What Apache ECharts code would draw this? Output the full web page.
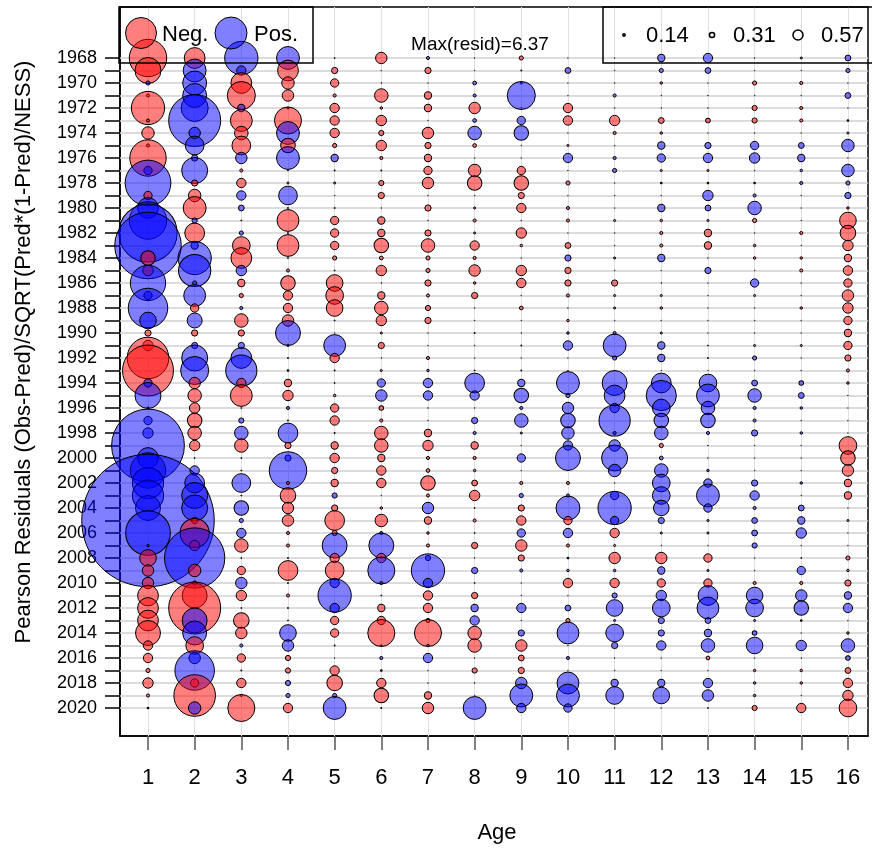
<!DOCTYPE html>
<html>
<head>
<meta charset="utf-8">
<title>Pearson residuals by age</title>
<script src="https://cdn.jsdelivr.net/npm/echarts@6/dist/echarts.min.js"></script>
<style>
  html, body { margin: 0; padding: 0; background: #fff; }
  #chart { width: 872px; height: 852px; }
</style>
</head>
<body>
<div id="chart"></div>
<script>
// ages on x, years on y
const ages = [1, 2, 3, 4, 5, 6, 7, 8, 9, 10, 11, 12, 13, 14, 15, 16];
const years = [];
for (let y = 1968; y <= 2020; y++) years.push(y);
const yearLabels = years.filter(y => y % 2 === 0);
const sizeLegend = [0.14, 0.31, 0.57];
const maxResid = 6.37;

// residuals per age, 1968..2020 (negative = red, positive = blue)
const age1 = [-1.8, -1.25, 0.2, -0.15, -1.6, -0.15, -0.6, -0.15, -1.75, 0.4, 2.2, -0.4,
  1.0, 1.8, 2.8, 3.2, -0.7, -0.5, 1.7, 0.4, 1.9, 0.8,
  -0.3, -0.5, -2.0, -2.45, 0.4, 1.25, 0.1, 0.4, 0.5, 3.5,
  1.0, 1.7, 1.5, 1.5, 1.2, 6.37, 2.15, 0.12, -0.8, -0.55,
  -0.55, -1.0, -1.0, -1.0, -1.2, -0.45, -0.45, -0.2, -0.5, -0.15,
  -0.08];
const age2 = [-1.0, 1.1, 1.15, 1.15, 1.3, 2.5, 0.55, 0.9, 0.3, 1.25, -0.3, -0.6,
  -1.1, 0.25, -0.95, 0.35, 1.6, 1.55, 0.2, 1.05, -0.4, 0.72,
  -0.3, 0.3, 1.25, 1.35, -0.55, -0.65, -0.5, -0.7, -0.65, -0.5,
  0.05, 0.45, 0.95, 1.25, 1.25, -0.3, -1.4, -0.5, 2.9, -0.6,
  -0.2, -1.2, -2.5, 1.2, 1.15, -0.85, 0.55, 1.9, -0.4, -2.0,
  0.6];
const age3 = [1.6, 0.45, -1.0, -1.35, 0.35, -1.05, -0.65, -0.9, 0.55, -0.15, -0.45, 0.45,
  0.28, 0.05, 0.2, -0.85, -1.0, 0.5, -0.35, -0.2, 0.15, -0.65,
  -0.3, 0.3, 1.0, 1.5, -0.45, -1.05, 0.05, 0.25, 0.65, -0.65,
  0.05, 0.05, 0.9, 0.05, 0.7, 0.2, 0.45, -0.65, 0.05, -0.4,
  0.55, -0.5, 0.05, -0.75, -0.55, 0.15, -0.4, 0.04, -0.45, -0.1,
  -1.3];
const age4 = [1.1, -1.0, -0.6, -0.55, 0.08, -1.3, 1.1, -0.7, 1.1, 0.05, -0.1, 0.9,
  0.04, -1.05, 0.04, -1.05, 0.05, -0.15, -0.7, -0.45, -0.45, -0.55,
  1.2, 0.1, 0.04, 0.08, -0.35, -0.5, 0.15, 0.04, 0.95, -0.3,
  0.3, 1.8, -0.15, -0.75, -0.55, -0.55, -0.15, -0.15, 0.04, -0.95,
  0.04, -0.15, 0.04, 0.05, 0.8, 0.55, -0.25, -0.25, 0.25, 0.2,
  -0.45];
const age5 = [0.05, -0.3, -0.4, -0.15, -0.45, -0.45, -0.45, -0.2, 0.35, 0.04, -0.1, 0.02,
  0.06, -0.4, -0.4, -0.4, -0.2, 0.05, -0.8, -0.85, -0.8, 0.05,
  0.02, 1.05, -0.45, 0.04, 0.05, -0.12, -0.4, -0.45, 0.04, -0.35,
  -0.45, -0.3, -0.35, 0.25, -0.3, -0.95, -0.25, 1.2, -0.45, -0.9,
  0.45, 1.6, 0.45, -0.4, -0.4, 0.04, 0.03, -0.45, -0.75, 0.2,
  1.1];
const age6 = [-0.55, 0.02, 0.03, -0.65, -0.12, -0.5, -0.25, -0.5, -0.15, 0.04, -0.25, -0.3,
  0.03, -0.35, -0.35, -0.7, -0.18, -0.5, 0.03, -0.35, -0.65, -0.5,
  -0.1, -0.3, 0.03, -0.1, 0.4, 0.55, -0.22, -0.15, -0.65, -0.65,
  -0.35, -0.45, -0.45, 0.03, -0.12, -0.6, 0.15, 1.2, -0.45, 1.3,
  0.15, 0.05, -0.35, -0.4, -1.3, 0.04, 0.15, -0.08, -0.45, -0.7,
  0.04];
const age7 = [0.15, -0.3, 0.02, -0.35, -0.35, 0.02, -0.55, -0.3, -0.35, -0.4, -0.55, 0.02,
  -0.3, 0.02, -0.3, -0.65, -0.2, -0.2, -0.3, -0.15, -0.25, -0.3,
  0.02, 0.02, -0.15, 0.12, 0.45, 0.45, 0.03, 0.02, -0.35, -0.5,
  -0.15, -0.18, -0.7, -0.15, 0.55, -0.35, -0.12, -0.15, 0.25, 1.6,
  0.45, -0.45, -0.45, -0.2, -1.3, -0.12, 0.45, 0.02, 0.03, -0.35,
  -0.55];
const age8 = [0.03, 0.03, 0.18, 0.15, -0.55, 0.18, 0.65, -0.18, 0.02, -0.6, -0.7, 0.02,
  -0.1, -0.15, -0.1, -0.45, -0.15, -0.55, -0.12, -0.3, 0.02, 0.03,
  0.04, 0.03, 0.02, 0.05, 0.95, 0.45, 0.03, 0.3, 0.15, -0.35,
  -0.15, -0.12, -0.28, -0.5, 0.05, -0.15, 0.05, -0.3, 0.03, 0.3,
  0.05, -0.3, 0.35, 0.45, -0.65, -0.65, 0.03, -0.25, 0.03, 0.02,
  1.1];
const age9 = [-0.2, 0.04, 0.1, 1.35, 0.03, 0.4, 0.7, 0.03, 0.02, -0.4, -0.7, -0.3,
  -0.45, 0.02, -0.5, -0.12, 0.02, -0.5, -0.45, 0.02, -0.18, 0.03,
  0.03, 0.04, 0.02, 0.04, 0.35, 0.7, 0.15, 0.65, 0.1, 0.02,
  0.4, 0.02, -0.15, 0.2, -0.3, -0.45, 0.4, -0.55, -0.3, 0.15,
  0.02, 0.03, 0.45, 0.03, 0.3, -0.55, -0.28, -0.3, 0.55, 1.1,
  0.45];
const age10 = [0.02, 0.28, 0.02, 0.02, -0.45, -0.45, 0.02, -0.1, 0.45, 0.03, -0.2, 0.02,
  -0.15, -0.15, 0.02, -0.28, 0.3, -0.3, -0.3, -0.15, 0.03, -0.12,
  0.12, 0.45, 0.02, 0.03, 1.1, 0.2, 0.55, 0.7, 0.6, 0.45,
  1.2, 0.03, -0.15, 0.15, 1.15, -0.4, 0.45, -0.15, -0.08, 0.12,
  -0.45, 0.02, 0.28, -0.2, 1.05, 0.02, 0.15, 0.02, 1.05, 1.1,
  0.4];
const age11 = [0.03, 0.03, 0.02, 0.15, 0.02, -0.5, -0.15, 0.02, 0.15, 0.2, 0.02, 0.02,
  0.02, -0.1, 0.02, 0.02, 0.1, 0.02, -0.3, -0.1, -0.1, 0.02,
  0.15, 1.1, 0.2, 0.03, 1.2, 1.0, 0.45, 1.5, 0.15, 0.55,
  1.25, 0.6, 0.02, 0.4, 1.6, 0.4, -0.45, -0.1, -0.55, 0.12,
  -0.45, 0.25, 0.8, 0.1, 0.85, 0.3, 0.03, 0.02, 0.35, 0.85,
  0.03];
const age12 = [0.35, 0.2, -0.12, 0.03, 0.03, -0.28, -0.12, 0.35, 0.4, -0.1, 0.08, 0.02,
  0.35, -0.12, -0.15, -0.15, 0.35, 0.02, 0.03, -0.1, -0.12, 0.02,
  0.1, 0.35, 0.35, 0.03, 0.95, 1.45, 0.85, 0.7, 0.65, -0.2,
  0.18, 0.65, 0.85, 0.85, 0.75, 0.3, 0.1, 0.03, -0.55, 0.35,
  -0.4, 0.5, 0.85, 0.3, 0.3, 0.45, 0.02, 0.02, 0.35, 0.8,
  0.02];
const age13 = [0.45, 0.28, 0.02, 0.03, 0.03, -0.22, 0.02, 0.3, 0.45, -0.1, -0.08, 0.5,
  0.28, -0.1, -0.35, -0.35, 0.03, 0.3, 0.02, 0.02, 0.02, 0.02,
  0.02, 0.05, 0.04, 0.02, 0.85, 1.1, 0.65, 0.7, 0.15, 0.03,
  0.03, 0.12, 0.4, 1.1, 0.4, 0.1, 0.1, 0.02, -0.4, 0.1,
  -0.4, 0.95, 1.05, 0.28, 0.35, 0.65, -0.18, 0.02, 0.45, 0.55,
  0.05];
const age14 = [0.03, 0.03, -0.2, 0.02, -0.25, -0.25, 0.02, 0.4, 0.5, 0.02, -0.08, 0.15,
  0.65, -0.2, 0.02, -0.12, -0.12, 0.02, 0.4, -0.1, 0.02, 0.02,
  0.02, -0.1, 0.2, 0.02, 0.28, 0.65, 0.15, 0.15, 0.3, 0.03,
  0.02, 0.02, 0.3, 0.45, 0.15, 0.28, 0.28, 0.25, 0.02, 0.02,
  -0.15, 0.8, 0.85, 0.1, 0.22, 0.8, 0.02, -0.12, 0.12, 0.12,
  -0.25];
const age15 = [0.1, 0.03, -0.15, 0.02, -0.15, -0.15, 0.02, 0.28, 0.35, 0.12, 0.15, 0.02,
  0.02, 0.03, -0.15, 0.03, -0.12, -0.15, 0.02, 0.02, -0.12, 0.02,
  0.02, -0.1, 0.02, 0.02, 0.22, 0.28, 0.12, 0.02, 0.12, 0.02,
  0.02, 0.02, 0.12, 0.03, 0.28, 0.35, 0.5, 0.02, 0.05, 0.4,
  -0.15, 0.55, 0.7, 0.08, 0.02, 0.5, 0.03, -0.12, -0.12, 0.03,
  -0.45];
const age16 = [0.28, 0.2, 0.02, 0.28, 0.02, 0.08, -0.1, 0.6, 0.02, 0.6, 0.2, 0.3,
  -0.12, -0.8, -0.75, -0.5, -0.35, -0.45, -0.4, -0.55, -0.5, -0.4,
  -0.35, -0.4, -0.3, -0.15, -0.12, 0.03, 0.02, 0.02, 0.02, -0.85,
  -0.7, -0.55, -0.35, -0.35, 0.02, -0.1, 0.02, 0.02, -0.2, -0.12,
  -0.3, 0.35, 0.45, 0.02, -0.12, 0.65, 0.22, -0.28, -0.45, -0.5,
  -0.85];

const residByAge = [age1, age2, age3, age4, age5, age6, age7, age8,
  age9, age10, age11, age12, age13, age14, age15, age16];

const NEG = 'rgba(255,0,0,0.5)';
const POS = 'rgba(0,0,255,0.5)';
const PX_PER_UNIT = 10.4;   // bubble radius in px per unit of residual
const FONT = '"Liberation Sans", Arial, sans-serif';

const points = [];
ages.forEach((a, i) => {
  residByAge[i].forEach((v, j) => points.push([a, years[j], v]));
});

const chart = echarts.init(document.getElementById('chart'));

const gridLine = { color: '#d0d0d0', width: 1.5, type: 'solid' };

chart.setOption({
  animation: false,
  backgroundColor: '#fff',
  textStyle: { fontFamily: FONT },
  grid: {
    left: 120, right: 4, top: 7, bottom: 116,
    show: true, borderColor: '#000', borderWidth: 1.5
  },
  xAxis: {
    type: 'value',
    min: 0.4, max: 16.43,
    splitLine: { show: false },
    axisLine: { show: true, onZero: false, lineStyle: { color: '#000', width: 1.5 } },
    axisTick: { show: true, customValues: ages, length: 14, lineStyle: { color: '#555', width: 1.5 } },
    axisLabel: { customValues: ages, fontSize: 22, color: '#000', margin: 31, fontFamily: FONT,
      formatter: v => String(v) }
  },
  yAxis: {
    type: 'value',
    inverse: true,
    min: 1963.92, max: 2022.24,
    splitLine: { show: false },
    axisLine: { show: true, onZero: false, lineStyle: { color: '#000', width: 1.5 } },
    axisTick: { show: true, customValues: years, length: 15, lineStyle: { color: '#000', width: 1.5 } },
    axisLabel: { customValues: yearLabels, fontSize: 18, color: '#000', margin: 23, fontFamily: FONT,
      formatter: v => String(v) }
  },
  series: [
    {
      // faint grid through every year and every age
      type: 'scatter',
      data: [],
      silent: true,
      markLine: {
        z: 1,
        silent: true,
        symbol: 'none',
        label: { show: false },
        lineStyle: gridLine,
        data: years.map(y => ({ yAxis: y }))
          .concat(ages.map(a => ({ xAxis: a, lineStyle: { color: '#e0e0e0', width: 1 } })))
      }
    },
    {
      type: 'scatter',
      z: 3,
      silent: true,
      clip: true,
      data: points,
      symbolSize: v => Math.max(Math.abs(v[2]) * 2 * PX_PER_UNIT, 0.3),
      itemStyle: {
        color: p => (p.value[2] < 0 ? NEG : POS),
        borderColor: '#000',
        borderWidth: 1,
        opacity: 1
      }
    }
  ],
  graphic: [
    // sign legend
    { type: 'rect', z: 10, shape: { x: 119, y: 7, width: 194, height: 56 },
      style: { fill: 'none', stroke: '#000', lineWidth: 1.5 } },
    { type: 'circle', z: 10, shape: { cx: 141, cy: 33, r: 15.5 },
      style: { fill: NEG, stroke: '#000', lineWidth: 1 } },
    { type: 'text', z: 10, x: 162, y: 35,
      style: { text: 'Neg.', fill: '#000', font: '22px ' + FONT, verticalAlign: 'middle' } },
    { type: 'circle', z: 10, shape: { cx: 231, cy: 33, r: 16 },
      style: { fill: POS, stroke: '#000', lineWidth: 1 } },
    { type: 'text', z: 10, x: 254, y: 35,
      style: { text: 'Pos.', fill: '#000', font: '22px ' + FONT, verticalAlign: 'middle' } },
    // size legend
    { type: 'rect', z: 10, shape: { x: 603, y: 7, width: 290, height: 56 },
      style: { fill: 'none', stroke: '#000', lineWidth: 1.5 } },
    { type: 'circle', z: 10, shape: { cx: 624, cy: 35, r: sizeLegend[0] * PX_PER_UNIT * 0.8 },
      style: { fill: 'none', stroke: '#000', lineWidth: 1.5 } },
    { type: 'text', z: 10, x: 646, y: 36,
      style: { text: sizeLegend[0].toFixed(2), fill: '#000', font: '22px ' + FONT, verticalAlign: 'middle' } },
    { type: 'circle', z: 10, shape: { cx: 712, cy: 35, r: sizeLegend[1] * PX_PER_UNIT * 0.8 },
      style: { fill: 'none', stroke: '#000', lineWidth: 1.5 } },
    { type: 'text', z: 10, x: 733, y: 36,
      style: { text: sizeLegend[1].toFixed(2), fill: '#000', font: '22px ' + FONT, verticalAlign: 'middle' } },
    { type: 'circle', z: 10, shape: { cx: 798, cy: 35, r: sizeLegend[2] * PX_PER_UNIT * 0.85 },
      style: { fill: 'none', stroke: '#000', lineWidth: 1.5 } },
    { type: 'text', z: 10, x: 821, y: 36,
      style: { text: sizeLegend[2].toFixed(2), fill: '#000', font: '22px ' + FONT, verticalAlign: 'middle' } },
    // max residual note
    { type: 'text', z: 10, x: 480, y: 45,
      style: { text: 'Max(resid)=' + maxResid.toFixed(2), fill: '#000', font: '19px ' + FONT,
        align: 'center', verticalAlign: 'middle' } },
    // axis titles
    { type: 'text', z: 10, x: 497, y: 833,
      style: { text: 'Age', fill: '#000', font: '22px ' + FONT, align: 'center', verticalAlign: 'middle' } },
    { type: 'text', z: 10, x: 24, y: 352, rotation: Math.PI / 2,
      style: { text: 'Pearson Residuals (Obs-Pred)/SQRT(Pred*(1-Pred)/NESS)', fill: '#000',
        font: '22px ' + FONT, align: 'center', verticalAlign: 'middle' } }
  ]
});
</script>
</body>
</html>
